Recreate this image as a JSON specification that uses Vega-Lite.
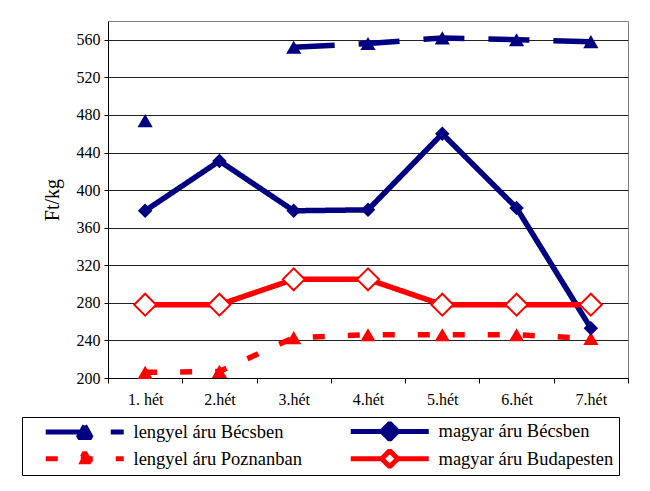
{
  "$schema": "https://vega.github.io/schema/vega-lite/v6.json",
  "width": 520,
  "height": 357,
  "autosize": "none",
  "padding": {"left": 108, "top": 21, "right": 22, "bottom": 113},
  "background": "white",
  "config": {
    "view": {"stroke": "#808080", "strokeWidth": 1},
    "axis": {
      "labelFont": "Liberation Serif",
      "labelColor": "black",
      "titleFont": "Liberation Serif",
      "titleColor": "black",
      "titleFontWeight": "normal",
      "domainColor": "black",
      "tickColor": "black"
    }
  },
  "data": {
    "values": [
      {"week": "1. hét", "series": "lengyel áru Bécsben", "value": 474},
      {"week": "2.hét", "series": "lengyel áru Bécsben", "value": null},
      {"week": "3.hét", "series": "lengyel áru Bécsben", "value": 552},
      {"week": "4.hét", "series": "lengyel áru Bécsben", "value": 556},
      {"week": "5.hét", "series": "lengyel áru Bécsben", "value": 562},
      {"week": "6.hét", "series": "lengyel áru Bécsben", "value": 560},
      {"week": "7.hét", "series": "lengyel áru Bécsben", "value": 558},
      {"week": "1. hét", "series": "magyar áru Bécsben", "value": 378},
      {"week": "2.hét", "series": "magyar áru Bécsben", "value": 431},
      {"week": "3.hét", "series": "magyar áru Bécsben", "value": 378},
      {"week": "4.hét", "series": "magyar áru Bécsben", "value": 379},
      {"week": "5.hét", "series": "magyar áru Bécsben", "value": 460},
      {"week": "6.hét", "series": "magyar áru Bécsben", "value": 381},
      {"week": "7.hét", "series": "magyar áru Bécsben", "value": 253},
      {"week": "1. hét", "series": "lengyel áru Poznanban", "value": 206},
      {"week": "2.hét", "series": "lengyel áru Poznanban", "value": 207},
      {"week": "3.hét", "series": "lengyel áru Poznanban", "value": 243},
      {"week": "4.hét", "series": "lengyel áru Poznanban", "value": 246},
      {"week": "5.hét", "series": "lengyel áru Poznanban", "value": 246},
      {"week": "6.hét", "series": "lengyel áru Poznanban", "value": 246},
      {"week": "7.hét", "series": "lengyel áru Poznanban", "value": 242},
      {"week": "1. hét", "series": "magyar áru Budapesten", "value": 278},
      {"week": "2.hét", "series": "magyar áru Budapesten", "value": 278},
      {"week": "3.hét", "series": "magyar áru Budapesten", "value": 305},
      {"week": "4.hét", "series": "magyar áru Budapesten", "value": 305},
      {"week": "5.hét", "series": "magyar áru Budapesten", "value": 278},
      {"week": "6.hét", "series": "magyar áru Budapesten", "value": 278},
      {"week": "7.hét", "series": "magyar áru Budapesten", "value": 278}
    ]
  },
  "encoding": {
    "x": {
      "field": "week",
      "type": "ordinal",
      "sort": ["1. hét", "2.hét", "3.hét", "4.hét", "5.hét", "6.hét", "7.hét"],
      "scale": {"type": "band", "paddingInner": 0, "paddingOuter": 0},
      "axis": {
        "title": null,
        "labelAngle": 0,
        "labelFont": "Liberation Serif",
        "labelFontSize": 16,
        "tickBand": "extent",
        "tickSize": 5,
        "labelPadding": 8,
        "grid": false
      }
    },
    "y": {
      "field": "value",
      "type": "quantitative",
      "scale": {"domain": [200, 580], "nice": false, "zero": false},
      "axis": {
        "title": "Ft/kg",
        "titleFont": "Liberation Serif",
        "titleFontSize": 20,
        "titleFontWeight": "normal",
        "titlePadding": 14,
        "values": [200, 240, 280, 320, 360, 400, 440, 480, 520, 560],
        "labelFont": "Liberation Serif",
        "labelFontSize": 16,
        "tickSize": 4,
        "labelPadding": 4,
        "grid": true,
        "gridColor": "#222222",
        "gridWidth": 1
      }
    }
  },
  "layer": [
    {
      "mark": {"type": "line", "strokeWidth": 5.5, "invalid": "break-paths-filter-domains"},
      "encoding": {
        "color": {
          "field": "series",
          "type": "nominal",
          "scale": {
            "domain": ["lengyel áru Bécsben", "lengyel áru Poznanban", "magyar áru Bécsben", "magyar áru Budapesten"],
            "range": ["#000080", "#FF0000", "#000080", "#FF0000"]
          },
          "legend": {
            "orient": "none",
            "legendX": -86,
            "legendY": 396,
            "title": null,
            "columns": 2,
            "columnPadding": 30,
            "rowPadding": 5.5,
            "padding": 5,
            "symbolSize": 100,
            "symbolStrokeWidth": 5,
            "labelOffset": 88,
            "labelFont": "Liberation Serif",
            "labelFontSize": 18.5,
            "labelColor": "black",
            "labelLimit": 0,
            "strokeColor": "black",
            "fillColor": "white",
            "encode": {
              "symbols": {
                "update": {
                  "shape": {"signal": "indexof(datum.value, 'magyar') == 0 ? 'M1.9,0H8.1M11.3,0H17.5M9.7,-1.6L11.3,0L9.7,1.6L8.1,0Z' : 'M1.9,0H17.5M9.7,-1.25L11.0,1.1L8.4,1.1Z'"},
                  "fill": {"signal": "datum.value == 'magyar áru Budapesten' ? 'white' : (indexof(datum.value, 'Poznan') >= 0 ? '#FF0000' : '#000080')"},
                  "stroke": {"signal": "indexof(datum.value, 'Poznan') >= 0 || indexof(datum.value, 'Budapest') >= 0 ? '#FF0000' : '#000080'"},
                  "strokeDash": {"signal": "datum.value == 'lengyel áru Bécsben' ? [41, 24] : (datum.value == 'lengyel áru Poznanban' ? [12, 23] : [1, 0])"},
                  "strokeWidth": {"value": 5},
                  "strokeJoin": {"value": "bevel"},
                  "opacity": {"value": 1}
                }
              }
            }
          }
        },
        "strokeDash": {
          "field": "series",
          "type": "nominal",
          "scale": {
            "domain": ["lengyel áru Bécsben", "lengyel áru Poznanban", "magyar áru Bécsben", "magyar áru Budapesten"],
            "range": [[41, 24], [12, 23], [1, 0], [1, 0]]
          },
          "legend": null
        }
      }
    },
    {
      "transform": [{"filter": "datum.series == 'lengyel áru Bécsben'"}],
      "mark": {"type": "point", "shape": "triangle-up", "filled": true, "size": 230, "opacity": 1, "color": "#000080", "invalid": "filter"}
    },
    {
      "transform": [{"filter": "datum.series == 'lengyel áru Poznanban'"}],
      "mark": {"type": "point", "shape": "triangle-up", "filled": true, "size": 230, "opacity": 1, "color": "#FF0000", "invalid": "filter"}
    },
    {
      "transform": [{"filter": "datum.series == 'magyar áru Bécsben'"}],
      "mark": {"type": "point", "shape": "diamond", "filled": true, "size": 210, "opacity": 1, "color": "#000080"}
    },
    {
      "transform": [{"filter": "datum.series == 'magyar áru Budapesten'"}],
      "mark": {"type": "point", "shape": "diamond", "filled": true, "size": 480, "opacity": 1, "fill": "white", "stroke": "#FF0000", "strokeWidth": 2}
    }
  ]
}
